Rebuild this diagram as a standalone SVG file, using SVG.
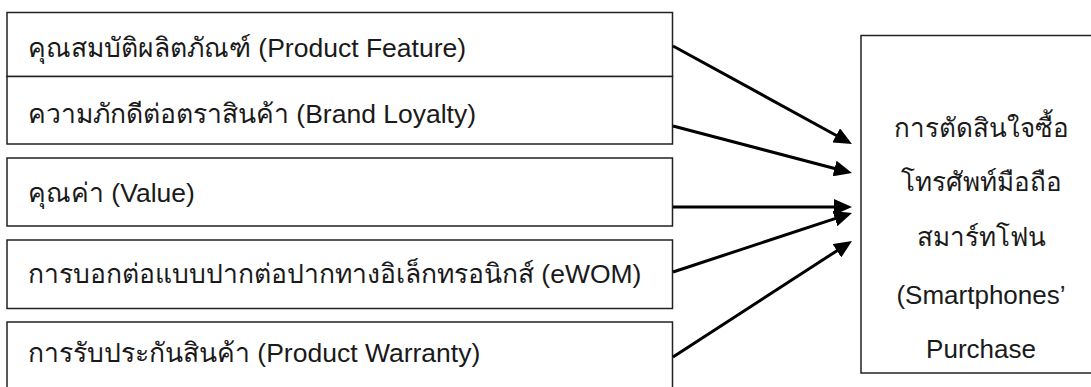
<svg xmlns="http://www.w3.org/2000/svg" width="1091" height="387" viewBox="0 0 1091 387">
  <style>
    .box { fill: #ffffff; stroke: #222222; stroke-width: 1.5; }
    .lbl { font-family: "Liberation Sans", "Noto Sans", "DejaVu Sans", sans-serif; font-size: 26.5px; fill: #1a1a1a; }
    .rt { font-size: 26px; }
    .ctr { text-anchor: middle; }
    .arrow { stroke: #000000; stroke-width: 3; fill: none; marker-end: url(#head); }
  </style>
  <defs>
    <marker id="head" viewBox="0 0 18 16" refX="8" refY="8" markerWidth="18" markerHeight="16" markerUnits="userSpaceOnUse" orient="auto">
      <path d="M0,0 L18,8 L0,16 Z" fill="#000000"/>
    </marker>
  </defs>
  <rect width="1091" height="387" fill="#ffffff"/>
  <g id="node-product-feature">
    <rect class="box" x="7" y="12.5" width="665.5" height="64"/>
    <text class="lbl" x="28" y="57">คุณสมบัติผลิตภัณฑ์ (Product Feature)</text>
  </g>
  <g id="node-brand-loyalty">
    <rect class="box" x="7" y="76.5" width="665.5" height="67.5"/>
    <text class="lbl" x="28" y="123">ความภักดีต่อตราสินค้า (Brand Loyalty)</text>
  </g>
  <g id="node-value">
    <rect class="box" x="7" y="158" width="665.5" height="68"/>
    <text class="lbl" x="28" y="202">คุณค่า (Value)</text>
  </g>
  <g id="node-ewom">
    <rect class="box" x="7" y="240" width="665.5" height="68.5"/>
    <text class="lbl" x="28" y="283">การบอกต่อแบบปากต่อปากทางอิเล็กทรอนิกส์ (eWOM)</text>
  </g>
  <g id="node-warranty">
    <rect class="box" x="7" y="322" width="665.5" height="70"/>
    <text class="lbl" x="28" y="362">การรับประกันสินค้า (Product Warranty)</text>
  </g>
  <g id="node-purchase">
    <rect class="box" x="861" y="35.5" width="240" height="337.5"/>
    <text class="lbl rt ctr" x="981" y="137">การตัดสินใจซื้อ</text>
    <text class="lbl rt ctr" x="981" y="191">โทรศัพท์มือถือ</text>
    <text class="lbl rt ctr" x="981" y="246">สมาร์ทโฟน</text>
    <text class="lbl rt ctr" x="981" y="304">(Smartphones’</text>
    <text class="lbl rt ctr" x="981" y="358">Purchase</text>
  </g>
  <g id="connectors">
    <line class="arrow" x1="673" y1="46" x2="843.2" y2="139.2"/>
    <line class="arrow" x1="673" y1="126" x2="842.3" y2="170.5"/>
    <line class="arrow" x1="673" y1="207" x2="842" y2="207"/>
    <line class="arrow" x1="673" y1="272" x2="842.5" y2="216.1"/>
    <line class="arrow" x1="673" y1="357" x2="843.6" y2="246.4"/>
  </g>
</svg>
